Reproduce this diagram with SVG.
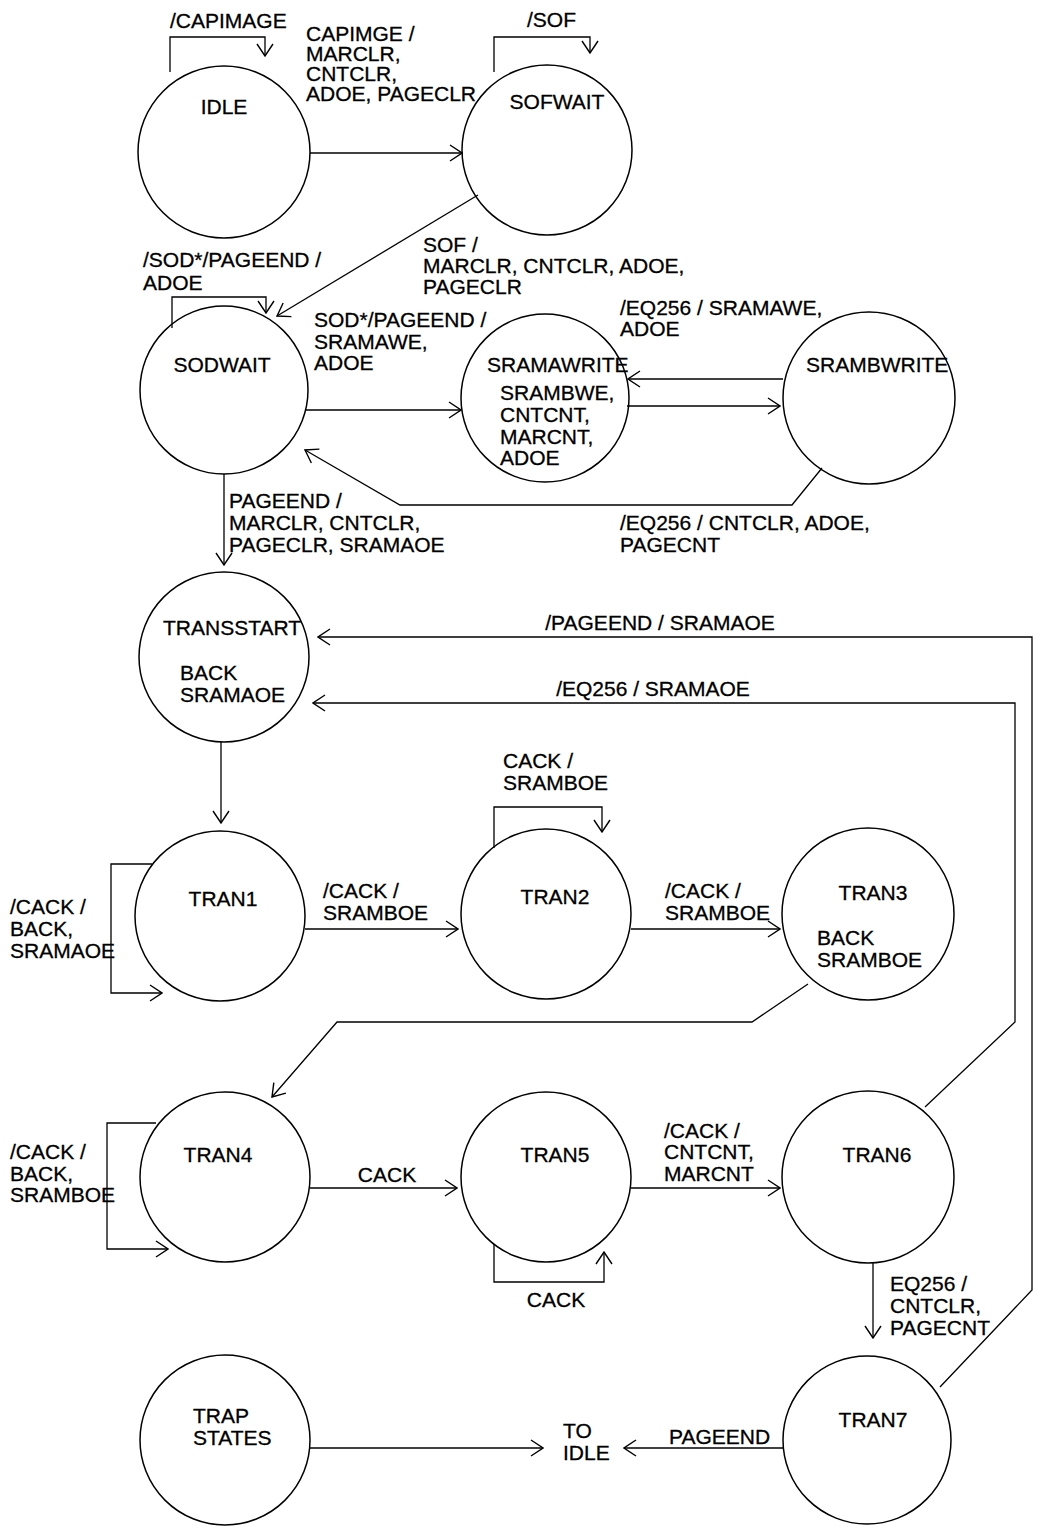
<svg xmlns="http://www.w3.org/2000/svg" width="1046" height="1532" viewBox="0 0 1046 1532">
<style>
.st{fill:none;stroke:#000;stroke-width:1.5}
.cn{fill:none;stroke:#000;stroke-width:1.3}
text{font-family:"Liberation Sans",Arial,sans-serif;font-size:21px;fill:#000;stroke:#000;stroke-width:0.3}
.m{text-anchor:middle}
</style>
<defs>
<marker id="ah" markerUnits="userSpaceOnUse" viewBox="0 0 14 18" refX="13" refY="9" markerWidth="14" markerHeight="18" orient="auto">
<path d="M1,1 L13,9 L1,17" fill="none" stroke="#000" stroke-width="1.4"/>
</marker>
</defs>
<rect width="1046" height="1532" fill="#fff"/>
<g id="connectors">
<line class="cn" x1="310" y1="153" x2="462" y2="153" marker-end="url(#ah)"/>
<polyline class="cn" points="170,72 170,37 265,37 265,56" marker-end="url(#ah)"/>
<polyline class="cn" points="494,72 494,37 590,37 590,53" marker-end="url(#ah)"/>
<line class="cn" x1="478" y1="195" x2="277" y2="316" marker-end="url(#ah)"/>
<polyline class="cn" points="172,328 172,297 266,297 266,313" marker-end="url(#ah)"/>
<line class="cn" x1="306" y1="410" x2="461" y2="410" marker-end="url(#ah)"/>
<line class="cn" x1="783" y1="379" x2="628" y2="379" marker-end="url(#ah)"/>
<line class="cn" x1="627" y1="406" x2="780" y2="406" marker-end="url(#ah)"/>
<polyline class="cn" points="822,468 792,505 400,505 305,450" marker-end="url(#ah)"/>
<line class="cn" x1="224" y1="474" x2="224" y2="565" marker-end="url(#ah)"/>
<polyline class="cn" points="940,1387 1032,1290 1032,637 318,637" marker-end="url(#ah)"/>
<polyline class="cn" points="925,1107 1015,1022 1015,703 313,703" marker-end="url(#ah)"/>
<line class="cn" x1="221" y1="742" x2="221" y2="823" marker-end="url(#ah)"/>
<polyline class="cn" points="152,864 111,864 111,993 162,993" marker-end="url(#ah)"/>
<line class="cn" x1="305" y1="929" x2="458" y2="929" marker-end="url(#ah)"/>
<polyline class="cn" points="494,848 494,807 602,807 602,832" marker-end="url(#ah)"/>
<line class="cn" x1="631" y1="929" x2="780" y2="929" marker-end="url(#ah)"/>
<polyline class="cn" points="808,984 752,1022 337,1022 272,1097" marker-end="url(#ah)"/>
<polyline class="cn" points="156,1123 107,1123 107,1249 168,1249" marker-end="url(#ah)"/>
<line class="cn" x1="310" y1="1188" x2="457" y2="1188" marker-end="url(#ah)"/>
<polyline class="cn" points="494,1244 494,1282 604,1282 604,1252" marker-end="url(#ah)"/>
<line class="cn" x1="631" y1="1188" x2="780" y2="1188" marker-end="url(#ah)"/>
<line class="cn" x1="873" y1="1262" x2="873" y2="1338" marker-end="url(#ah)"/>
<line class="cn" x1="784" y1="1448" x2="624" y2="1448" marker-end="url(#ah)"/>
<line class="cn" x1="310" y1="1448" x2="543" y2="1448" marker-end="url(#ah)"/>
<text x="170" y="28">/CAPIMAGE</text>
<text x="306" y="41">CAPIMGE /</text>
<text x="306" y="61">MARCLR,</text>
<text x="306" y="81">CNTCLR,</text>
<text x="306" y="101">ADOE, PAGECLR</text>
<text x="527" y="27">/SOF</text>
<text x="423" y="252">SOF /</text>
<text x="423" y="273">MARCLR, CNTCLR, ADOE,</text>
<text x="423" y="294">PAGECLR</text>
<text x="143" y="267">/SOD*/PAGEEND /</text>
<text x="143" y="290">ADOE</text>
<text x="314" y="327">SOD*/PAGEEND /</text>
<text x="314" y="349">SRAMAWE,</text>
<text x="314" y="370">ADOE</text>
<text x="620" y="315">/EQ256 / SRAMAWE,</text>
<text x="620" y="336">ADOE</text>
<text x="620" y="530">/EQ256 / CNTCLR, ADOE,</text>
<text x="620" y="552">PAGECNT</text>
<text x="229" y="508">PAGEEND /</text>
<text x="229" y="530">MARCLR, CNTCLR,</text>
<text x="229" y="552">PAGECLR, SRAMAOE</text>
<text class="m" x="660" y="630">/PAGEEND / SRAMAOE</text>
<text class="m" x="653" y="696">/EQ256 / SRAMAOE</text>
<text x="503" y="768">CACK /</text>
<text x="503" y="790">SRAMBOE</text>
<text x="10" y="914">/CACK /</text>
<text x="10" y="936">BACK,</text>
<text x="10" y="958">SRAMAOE</text>
<text x="323" y="898">/CACK /</text>
<text x="323" y="920">SRAMBOE</text>
<text x="665" y="898">/CACK /</text>
<text x="665" y="920">SRAMBOE</text>
<text x="10" y="1159">/CACK /</text>
<text x="10" y="1181">BACK,</text>
<text x="10" y="1202">SRAMBOE</text>
<text class="m" x="387" y="1182">CACK</text>
<text class="m" x="556" y="1307">CACK</text>
<text x="664" y="1138">/CACK /</text>
<text x="664" y="1159">CNTCNT,</text>
<text x="664" y="1181">MARCNT</text>
<text x="890" y="1291">EQ256 /</text>
<text x="890" y="1313">CNTCLR,</text>
<text x="890" y="1335">PAGECNT</text>
<text x="669" y="1444">PAGEEND</text>
<text x="563" y="1438">TO</text>
<text x="563" y="1460">IDLE</text>
</g>
<g id="IDLE"><circle class="st" cx="224" cy="152" r="86"/><text class="m" x="224" y="114">IDLE</text></g>
<g id="SOFWAIT"><circle class="st" cx="547" cy="150" r="85"/><text class="m" x="557" y="109">SOFWAIT</text></g>
<g id="SODWAIT"><circle class="st" cx="224" cy="390" r="84"/><text class="m" x="222" y="372">SODWAIT</text></g>
<g id="SRAMAWRITE"><circle class="st" cx="545" cy="398" r="84"/><text x="487" y="372">SRAMAWRITE</text><text x="500" y="400">SRAMBWE,</text><text x="500" y="422">CNTCNT,</text><text x="500" y="444">MARCNT,</text><text x="500" y="465">ADOE</text></g>
<g id="SRAMBWRITE"><circle class="st" cx="869" cy="398" r="86"/><text x="806" y="372">SRAMBWRITE</text></g>
<g id="TRANSSTART"><circle class="st" cx="224" cy="657" r="85"/><text x="163" y="635">TRANSSTART</text><text x="180" y="680">BACK</text><text x="180" y="702">SRAMAOE</text></g>
<g id="TRAN1"><circle class="st" cx="220" cy="916" r="85"/><text class="m" x="223" y="906">TRAN1</text></g>
<g id="TRAN2"><circle class="st" cx="546" cy="914" r="85"/><text class="m" x="555" y="904">TRAN2</text></g>
<g id="TRAN3"><circle class="st" cx="868" cy="914" r="86"/><text class="m" x="873" y="900">TRAN3</text><text x="817" y="945">BACK</text><text x="817" y="967">SRAMBOE</text></g>
<g id="TRAN4"><circle class="st" cx="225" cy="1177" r="85"/><text class="m" x="218" y="1162">TRAN4</text></g>
<g id="TRAN5"><circle class="st" cx="546" cy="1177" r="85"/><text class="m" x="555" y="1162">TRAN5</text></g>
<g id="TRAN6"><circle class="st" cx="868" cy="1177" r="86"/><text class="m" x="877" y="1162">TRAN6</text></g>
<g id="TRAN7"><circle class="st" cx="867" cy="1440" r="84"/><text class="m" x="873" y="1427">TRAN7</text></g>
<g id="TRAP_STATES"><circle class="st" cx="225" cy="1440" r="85"/><text x="193" y="1423">TRAP</text><text x="193" y="1445">STATES</text></g>
</svg>
